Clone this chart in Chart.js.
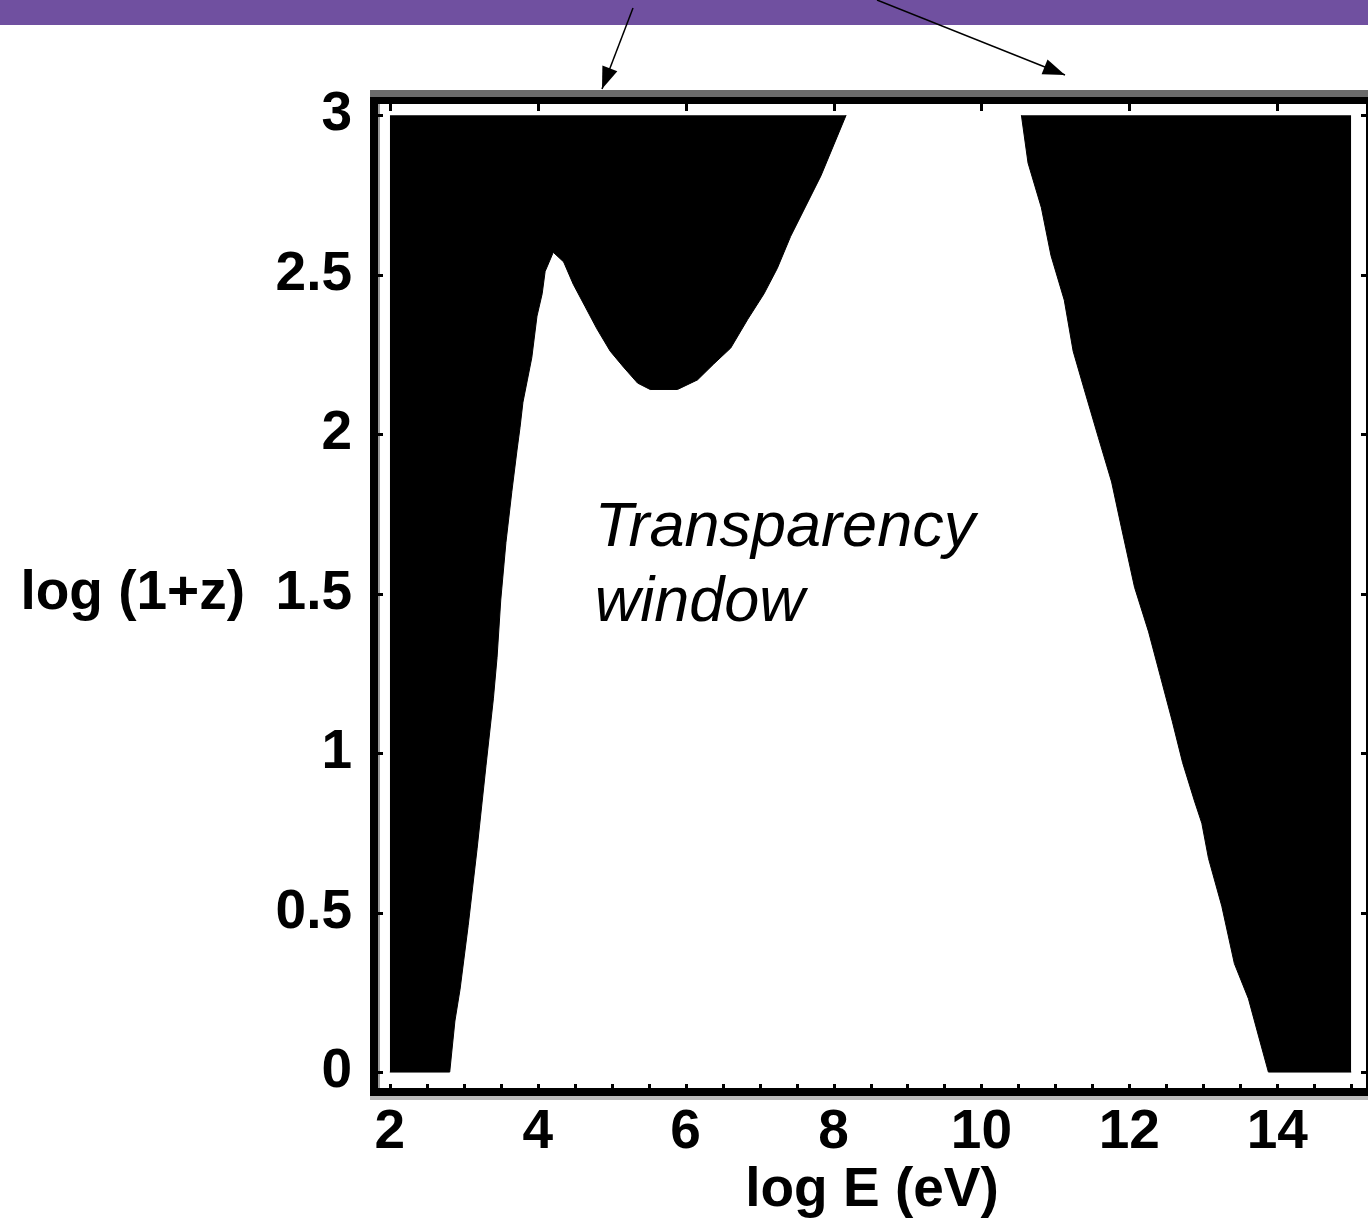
<!DOCTYPE html>
<html>
<head>
<meta charset="utf-8">
<script src="https://cdn.jsdelivr.net/npm/chart.js@4.4.0/dist/chart.umd.min.js"></script>
<style>
  body { margin: 0; background: #fff; }
  #contenedor { width: 1368px; height: 1226px; }
</style>
</head>
<body>
<div id="contenedor"><canvas id="miGrafica"></canvas></div>
<script>
// Borde de la region opaca izquierda (log E, log(1+z))
const bordeIzqX = [2, 2.81, 2.88, 2.95, 3.06, 3.18, 3.30, 3.40, 3.45, 3.50, 3.57, 3.65, 3.72, 3.76, 3.80, 3.86, 3.92, 3.99, 4.06, 4.10, 4.21, 4.35, 4.48, 4.64, 4.80, 4.98, 5.16, 5.35, 5.52, 5.89, 6.16, 6.38, 6.61, 6.84, 7.06, 7.24, 7.42, 7.83, 8.17];
const bordeIzqY = [0, 0, 0.16, 0.26, 0.46, 0.70, 0.96, 1.17, 1.30, 1.48, 1.66, 1.82, 1.95, 2.02, 2.10, 2.17, 2.24, 2.37, 2.44, 2.51, 2.57, 2.54, 2.47, 2.40, 2.33, 2.26, 2.21, 2.16, 2.14, 2.14, 2.17, 2.22, 2.27, 2.36, 2.44, 2.52, 2.62, 2.81, 3.0];

// Borde de la region opaca derecha
const bordeDerX = [10.54, 10.63, 10.81, 10.94, 11.12, 11.24, 11.39, 11.58, 11.76, 11.89, 12.07, 12.26, 12.42, 12.58, 12.72, 12.88, 12.98, 13.07, 13.25, 13.42, 13.61, 13.75, 13.88, 15];
const bordeDerY = [3, 2.85, 2.71, 2.56, 2.42, 2.26, 2.14, 1.99, 1.85, 1.71, 1.52, 1.38, 1.24, 1.10, 0.97, 0.85, 0.78, 0.67, 0.52, 0.34, 0.23, 0.11, 0, 0];

const ticksX = [2, 4, 6, 8, 10, 12, 14];
const ticksY = [0, 0.5, 1, 1.5, 2, 2.5, 3];
const etiquetaY = 'log (1+z)';
const tituloX = 'log E (eV)';
const textoVentana = ['Transparency', 'window'];
const posTexto = { x: 4.77, y: 1.65 };
const techo = 3; // limite superior de las regiones negras

const fuente = "'Liberation Sans', Arial, Helvetica, sans-serif";

function puntos(xs, ys) {
    return xs.map((v, i) => ({ x: v, y: ys[i] }));
}

// Flecha sencilla con punta rellena
function flecha(ctx, x1, y1, x2, y2) {
    ctx.beginPath();
    ctx.moveTo(x1, y1);
    ctx.lineTo(x2, y2);
    ctx.stroke();
    const ang = Math.atan2(y2 - y1, x2 - x1);
    const L = 22, W = 8;
    const c = Math.cos(ang), s = Math.sin(ang);
    ctx.beginPath();
    ctx.moveTo(x2, y2);
    ctx.lineTo(x2 - L * c + W * s, y2 - L * s - W * c);
    ctx.lineTo(x2 - L * c - W * s, y2 - L * s + W * c);
    ctx.closePath();
    ctx.fill();
}

const decoracion = {
    id: 'decoracion',
    beforeDraw(chart) {
        const ctx = chart.ctx;
        ctx.save();
        ctx.fillStyle = '#fff';
        ctx.fillRect(0, 0, chart.width, chart.height);
        ctx.fillStyle = '#7050a0'; // franja morada superior
        ctx.fillRect(0, 0, chart.width, 25);
        ctx.restore();
    },
    afterDraw(chart) {
        const { ctx, chartArea: a, scales: { x, y } } = chart;
        ctx.save();
        const ancho = a.right - a.left;
        // marco
        ctx.fillStyle = '#6b6b6b';
        ctx.fillRect(a.left - 8, a.top - 14, ancho + 10, 7);
        ctx.fillStyle = '#000';
        ctx.fillRect(a.left - 8, a.top - 7, ancho + 10, 7);
        ctx.fillRect(a.left - 8, a.top - 7, 8, a.bottom - a.top + 15);
        ctx.fillRect(a.left - 8, a.bottom, ancho + 10, 8);
        ctx.fillRect(a.right, a.top - 7, 2, a.bottom - a.top + 15);
        ctx.fillStyle = '#bbb';
        ctx.fillRect(a.left - 8, a.bottom + 8, ancho + 10, 4);
        ctx.fillStyle = '#999';
        ctx.fillRect(a.left, a.top, 2, a.bottom - a.top);

        // marcas interiores
        ctx.fillStyle = '#000';
        for (let v = 2; v <= 15; v += 0.5) {
            const px = Math.round(x.getPixelForValue(v));
            ctx.fillRect(px - 1, a.bottom - 4, 3, 4);
        }
        ticksX.forEach(v => {
            const px = Math.round(x.getPixelForValue(v));
            ctx.fillRect(px - 1, a.top, 3, 7);
        });
        ticksY.forEach(v => {
            const py = Math.round(y.getPixelForValue(v));
            ctx.fillRect(a.left, py - 1, 5, 3);
            ctx.fillRect(a.right - 5, py - 1, 5, 3);
        });

        // texto de la ventana
        ctx.fillStyle = '#000';
        ctx.font = 'italic 63px ' + fuente;
        ctx.textAlign = 'left';
        ctx.textBaseline = 'alphabetic';
        const tx = x.getPixelForValue(posTexto.x);
        const ty = y.getPixelForValue(posTexto.y);
        textoVentana.forEach((t, i) => ctx.fillText(t, tx, ty + i * 75));

        // flechas
        ctx.strokeStyle = '#000';
        ctx.lineWidth = 1.5;
        flecha(ctx, 633, 8, 602, 89);
        flecha(ctx, 877, 0, 1065, 75);
        ctx.restore();
    }
};

const ctx = document.getElementById('miGrafica').getContext('2d');
new Chart(ctx, {
    type: 'scatter',
    data: {
        datasets: [
            {
                data: puntos(bordeIzqX, bordeIzqY),
                showLine: true,
                borderColor: '#000',
                borderWidth: 1,
                backgroundColor: '#000',
                pointRadius: 0,
                fill: { value: techo }
            },
            {
                data: puntos(bordeDerX, bordeDerY),
                showLine: true,
                borderColor: '#000',
                borderWidth: 1,
                backgroundColor: '#000',
                pointRadius: 0,
                fill: { value: techo }
            }
        ]
    },
    options: {
        responsive: true,
        maintainAspectRatio: false,
        animation: false,
        layout: { padding: { top: 104, right: 2, left: 0, bottom: 0 } },
        plugins: {
            legend: { display: false },
            tooltip: { enabled: false }
        },
        scales: {
            x: {
                type: 'linear',
                min: 1.84,
                max: 15.2,
                grid: { display: false },
                border: { display: false },
                afterBuildTicks: s => { s.ticks = ticksX.map(v => ({ value: v })); },
                afterFit: s => { s.height = 138; },
                ticks: {
                    color: '#000',
                    padding: 4,
                    maxRotation: 0,
                    font: { family: fuente, size: 55, weight: 'bold' }
                },
                title: {
                    display: true,
                    text: tituloX,
                    color: '#000',
                    padding: { top: 0, bottom: 2 },
                    font: { family: fuente, size: 55, weight: 'bold' }
                }
            },
            y: {
                type: 'linear',
                min: -0.05,
                max: 3.035,
                grid: { display: false },
                border: { display: false },
                afterBuildTicks: s => { s.ticks = ticksY.map(v => ({ value: v })); },
                afterFit: s => { s.width = 378; },
                ticks: {
                    color: '#000',
                    padding: 18,
                    font: { family: fuente, size: 55, weight: 'bold' },
                    callback: v => v === 1.5 ? etiquetaY + '  1.5' : String(v)
                }
            }
        }
    },
    plugins: [decoracion]
});
</script>
</body>
</html>
